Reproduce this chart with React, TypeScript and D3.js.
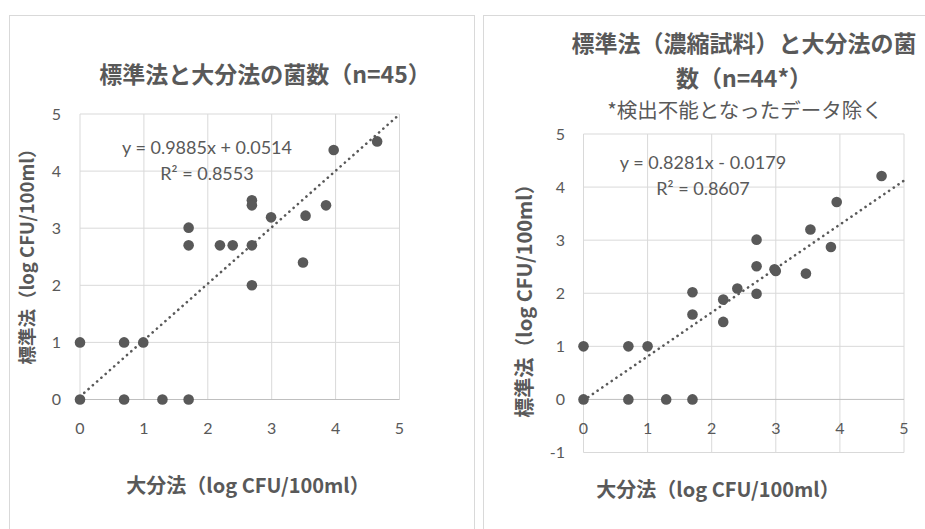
import React from "react";
import * as d3 from "d3";

// ---------- data ----------
const leftX = [0, 0.69, 1.29, 1.7, 0, 0.69, 0.99, 1.7, 1.7, 2.19, 2.39, 2.69, 2.69, 2.69, 2.69, 2.99, 3.53, 3.49, 3.85, 3.97, 4.65];
const leftY = [0, 0, 0, 0, 1, 1, 1, 2.7, 3.01, 2.7, 2.7, 2.7, 2.0, 3.49, 3.4, 3.19, 3.22, 2.4, 3.4, 4.37, 4.52];
const rightX = [0, 0.7, 1.29, 1.7, 0, 0.7, 1.0, 1.7, 1.7, 2.18, 2.18, 2.4, 2.7, 2.7, 2.7, 2.98, 3.0, 3.47, 3.54, 3.86, 3.95, 4.65];
const rightY = [0, 0, 0, 0, 1, 1, 1, 2.02, 1.6, 1.88, 1.46, 2.09, 1.99, 2.51, 3.01, 2.45, 2.42, 2.37, 3.2, 2.87, 3.72, 4.21];

const leftTrend = { slope: 0.9885, intercept: 0.0514 };
const rightTrend = { slope: 0.8281, intercept: -0.0179 };

const xTicks = [0, 1, 2, 3, 4, 5];
const leftYTicks = [0, 1, 2, 3, 4, 5];
const rightYTicks = [-1, 0, 1, 2, 3, 4, 5];

const leftTitle = ["標準法と大分法の菌数（n=45）"];
const rightTitle = ["標準法（濃縮試料）と大分法の菌", "数（n=44*）"];
const rightSubtitle = "*検出不能となったデータ除く";
const leftEq = ["y = 0.9885x + 0.0514", "R² = 0.8553"];
const rightEq = ["y = 0.8281x - 0.0179", "R² = 0.8607"];
const xTitle = "大分法（log CFU/100ml）";
const yTitle = "標準法（log CFU/100ml）";

const TEXT = "#595959";
const GRID = "#d9d9d9";
const FONT = "Lato, 'Noto Sans CJK JP', sans-serif";
const JFONT = "'Noto Sans CJK JP', sans-serif";

type PanelProps = {
  xs: number[];
  ys: number[];
  trend: { slope: number; intercept: number };
  yTicks: number[];
  xRange: [number, number];
  yRange: [number, number];
  yDomain: [number, number];
  eq: string[];
  eqPos: [number, number];
  xLabelY: number;
  yLabelX: number;
  xTitlePos: [number, number];
  yTitlePos: [number, number];
  yTitleSize: number;
};

function Panel(p: PanelProps) {
  const sx = d3.scaleLinear().domain([0, 5]).range(p.xRange);
  const sy = d3.scaleLinear().domain(p.yDomain).range(p.yRange);
  const line = d3
    .line<number>()
    .x((d) => sx(d))
    .y((d) => sy(p.trend.slope * d + p.trend.intercept));
  const pts = p.xs.map((x, i) => [x, p.ys[i]]);
  return (
    <g>
      {xTicks.map((t) => (
        <line key={"gx" + t} x1={sx(t)} x2={sx(t)} y1={sy(p.yDomain[0])} y2={sy(p.yDomain[1])} stroke={GRID} strokeWidth={1} />
      ))}
      {p.yTicks.map((t) => (
        <line key={"gy" + t} x1={sx(0)} x2={sx(5)} y1={sy(t)} y2={sy(t)} stroke={t === 0 ? "#bfbfbf" : GRID} strokeWidth={1} />
      ))}
      {p.yTicks.map((t) => (
        <text key={"ty" + t} x={p.yLabelX} y={sy(t)} dy="0.35em" textAnchor="end" fontSize={16} fill={TEXT} fontFamily={FONT}>
          {t}
        </text>
      ))}
      {xTicks.map((t) => (
        <text key={"tx" + t} x={sx(t)} y={p.xLabelY} dy="0.35em" textAnchor="middle" fontSize={16} fill={TEXT} fontFamily={FONT}>
          {t}
        </text>
      ))}
      {pts.map((d, i) => (
        <circle key={"p" + i} cx={sx(d[0])} cy={sy(d[1])} r={5.3} fill={TEXT} />
      ))}
      <path
        d={line([0, 5]) || ""}
        stroke={TEXT}
        strokeWidth={2.6}
        strokeDasharray="0.1 5.6"
        strokeLinecap="round"
        fill="none"
      />
      {p.eq.map((s, i) => (
        <text key={"eq" + i} x={p.eqPos[0]} y={p.eqPos[1] + i * 26} dy="0.35em" textAnchor="middle" fontSize={18} fill={TEXT} fontFamily={FONT}>
          {s}
        </text>
      ))}
      <text x={p.xTitlePos[0]} y={p.xTitlePos[1]} dy="0.35em" textAnchor="middle" fontSize={20} fontWeight="bold" fill={TEXT} fontFamily={JFONT}>
        {xTitle}
      </text>
      <text
        transform={`translate(${p.yTitlePos[0]},${p.yTitlePos[1]}) rotate(-90)`}
        dy="0.35em"
        textAnchor="middle"
        fontSize={p.yTitleSize}
        fontWeight="bold"
        fill={TEXT}
        fontFamily={JFONT}
      >
        {yTitle}
      </text>
    </g>
  );
}

export default function App() {
  return (
    <svg width={925} height={529} style={{ position: "absolute", left: 0, top: 0, background: "#fff" }}>
      <rect x={0} y={0} width={925} height={529} fill="#fff" />
      <rect x={9.5} y={15.5} width={465} height={530} fill="none" stroke={GRID} />
      <rect x={483.5} y={15.5} width={460} height={530} fill="none" stroke={GRID} />
      {leftTitle.map((s, i) => (
        <text key={"lt" + i} x={265} y={75} dy="0.35em" textAnchor="middle" fontSize={23} fontWeight="bold" fill={TEXT} fontFamily={JFONT}>
          {s}
        </text>
      ))}
      {rightTitle.map((s, i) => (
        <text key={"rt" + i} x={744} y={44 + i * 35} dy="0.35em" textAnchor="middle" fontSize={23} fontWeight="bold" fill={TEXT} fontFamily={JFONT}>
          {s}
        </text>
      ))}
      <text x={745} y={111} dy="0.35em" textAnchor="middle" fontSize={20.5} fill={TEXT} fontFamily={JFONT}>
        {rightSubtitle}
      </text>
      <Panel
        xs={leftX}
        ys={leftY}
        trend={leftTrend}
        yTicks={leftYTicks}
        xRange={[80, 399.5]}
        yRange={[399.5, 114]}
        yDomain={[0, 5]}
        eq={leftEq}
        eqPos={[207, 148]}
        xLabelY={428}
        yLabelX={61}
        xTitlePos={[248, 486]}
        yTitlePos={[28, 252]}
        yTitleSize={18.5}
      />
      <Panel
        xs={rightX}
        ys={rightY}
        trend={rightTrend}
        yTicks={rightYTicks}
        xRange={[583.5, 904]}
        yRange={[452.5, 134]}
        yDomain={[-1, 5]}
        eq={rightEq}
        eqPos={[703, 163]}
        xLabelY={428}
        yLabelX={565}
        xTitlePos={[718, 490]}
        yTitlePos={[525, 296]}
        yTitleSize={20}
      />
    </svg>
  );
}
